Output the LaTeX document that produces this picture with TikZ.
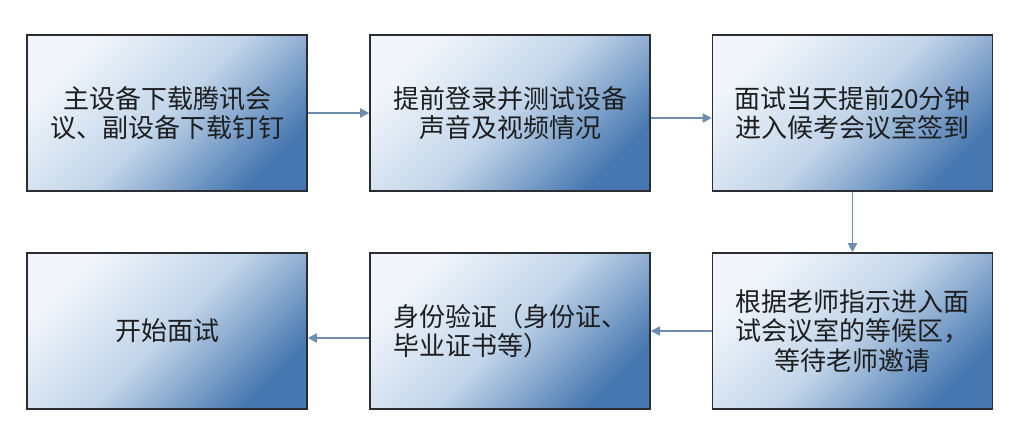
\documentclass[tikz,border=0pt]{standalone}
\usepackage{fontspec}
\setmainfont{Noto Sans CJK SC}
\usetikzlibrary{arrows.meta}
\definecolor{boxlight}{HTML}{F2F6FB}
\definecolor{boxmid}{HTML}{C2D5E9}
\definecolor{boxdark}{HTML}{4677B0}
\definecolor{boxborder}{HTML}{2A2E33}
\definecolor{arrowcol}{HTML}{6D8CB0}
\definecolor{textcol}{HTML}{1C1E20}
\tikzset{
  stepbox/.style={draw=boxborder, line width=1.6pt,
    top color=boxlight, bottom color=boxdark, middle color=boxmid, shading angle=45,
    minimum width=280pt, minimum height=156pt, inner sep=0pt,
    text=textcol, font=\fontsize{26}{29.5}\selectfont, align=center},
  flow/.style={draw=arrowcol, line width=1.8pt, -{Triangle[length=9pt,width=9pt]}}
}
\begin{document}
\begin{tikzpicture}[x=1pt,y=-1pt]
\useasboundingbox[fill=white] (0,0) rectangle (1024,442);
\node[stepbox] (b1) at (167,113) {主设备下载腾讯会\\议、副设备下载钉钉};
\node[stepbox] (b2) at (510,113) {提前登录并测试设备\\声音及视频情况};
\node[stepbox] (b3) at (852.5,113) {面试当天提前20分钟\\进入候考会议室签到};
\node[stepbox] (b4) at (852.5,331) {根据老师指示进入面\\试会议室的等候区，\\等待老师邀请};
\node[stepbox, align=left] (b5) at (510,331) {身份验证（身份证、\\毕业证书等）};
\node[stepbox] (b6) at (167,331) {开始面试};
\draw[flow] (b1) -- (b2);
\draw[flow] ([yshift=-5pt]b2.east) -- ([yshift=-5pt]b3.west);
\draw[flow] (b3) -- (b4);
\draw[flow] (b4) -- (b5);
\draw[flow] ([yshift=-7pt]b5.west) -- ([yshift=-7pt]b6.east);
\end{tikzpicture}
\end{document}
